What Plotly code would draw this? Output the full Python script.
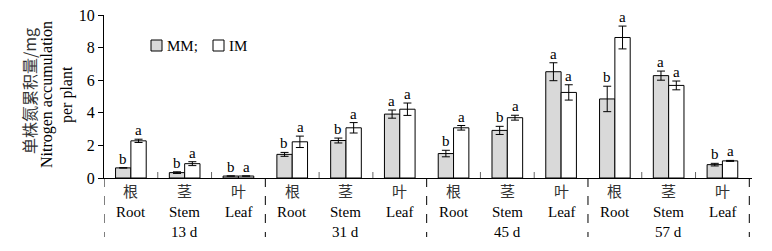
import plotly.graph_objects as go

groups = ["13 d", "31 d", "45 d", "57 d"]
organs_cn = ["根", "茎", "叶"]
organs_en = ["Root", "Stem", "Leaf"]

mm_vals = [0.62, 0.33, 0.12, 1.45, 2.30, 3.92, 1.50, 2.92, 6.52, 4.85, 6.28, 0.82]
mm_err = [0.00, 0.05, 0.00, 0.12, 0.15, 0.25, 0.20, 0.25, 0.55, 0.78, 0.28, 0.08]
im_vals = [2.28, 0.88, 0.12, 2.22, 3.08, 4.22, 3.08, 3.70, 5.25, 8.62, 5.68, 1.05]
im_err = [0.10, 0.12, 0.00, 0.35, 0.32, 0.38, 0.14, 0.15, 0.47, 0.70, 0.27, 0.03]
mm_sig = ["b", "b", "b", "b", "b", "a", "b", "b", "a", "b", "a", "b"]
im_sig = ["a", "a", "a", "a", "a", "a", "a", "a", "a", "a", "a", "a"]

serif = "Liberation Serif, Times New Roman, serif"
cjk = "Noto Sans CJK SC"

# the page body adds an 8px margin; compensate so the figure lands on the 772x251 frame
W, H = 764, 243
L, R, T, B = 96, 20, 7, 73
PW, PH = W - L - R, H - T - B

n = len(mm_vals)
xs = list(range(n))

fig = go.Figure()
fig.add_trace(go.Bar(
    x=xs, y=mm_vals, name="MM;", showlegend=False,
    marker=dict(color="#d9d9d9", line=dict(color="black", width=1)),
    error_y=dict(type="data", array=mm_err, color="black", thickness=1, width=4),
))
fig.add_trace(go.Bar(
    x=xs, y=im_vals, name="IM", showlegend=False,
    marker=dict(color="white", line=dict(color="black", width=1)),
    error_y=dict(type="data", array=im_err, color="black", thickness=1, width=4),
))

ann = []
off = 0.145
for i in range(n):
    ann.append(dict(x=i - off, y=mm_vals[i] + mm_err[i], xref="x", yref="y", text=mm_sig[i],
                    showarrow=False, xanchor="center", yanchor="bottom", yshift=-1,
                    font=dict(family=serif, size=15, color="black")))
    ann.append(dict(x=i + off, y=im_vals[i] + im_err[i], xref="x", yref="y", text=im_sig[i],
                    showarrow=False, xanchor="center", yanchor="bottom", yshift=-1,
                    font=dict(family=serif, size=15, color="black")))
for i in range(n):
    ann.append(dict(x=i, y=0, xref="x", yref="paper", text=organs_cn[i % 3], showarrow=False,
                    xanchor="center", yanchor="middle", yshift=-12,
                    font=dict(family=cjk, size=15, color="#333")))
    ann.append(dict(x=i, y=0, xref="x", yref="paper", text=organs_en[i % 3], showarrow=False,
                    xanchor="center", yanchor="middle", yshift=-34,
                    font=dict(family=serif, size=15, color="black")))
for g, name in enumerate(groups):
    ann.append(dict(x=g * 3 + 1, y=0, xref="x", yref="paper", text=name, showarrow=False,
                    xanchor="center", yanchor="middle", yshift=-54,
                    font=dict(family=serif, size=15, color="black")))

# y-axis title (three rotated lines)
ann.append(dict(x=0, y=(178 - 91) / PH, xref="paper", yref="paper", xshift=29 - 104,
                text="单株氮累积量/mg", textangle=-90, showarrow=False,
                xanchor="center", yanchor="middle", font=dict(family=cjk, size=16, color="#333")))
ann.append(dict(x=0, y=(178 - 95) / PH, xref="paper", yref="paper", xshift=47 - 104,
                text="Nitrogen accumulation", textangle=-90, showarrow=False,
                xanchor="center", yanchor="middle", font=dict(family=serif, size=16, color="black")))
ann.append(dict(x=0, y=(178 - 95) / PH, xref="paper", yref="paper", xshift=67 - 104,
                text="per plant", textangle=-90, showarrow=False,
                xanchor="center", yanchor="middle", font=dict(family=serif, size=16, color="black")))

def px(xp):
    return (xp - 104) / PW
def py(yp):
    return (178 - yp) / PH

shapes = []
# legend (drawn manually to match compact layout)
shapes.append(dict(type="rect", xref="paper", yref="paper", x0=px(151), x1=px(162), y0=py(51), y1=py(40),
                   fillcolor="#d9d9d9", line=dict(color="black", width=1)))
shapes.append(dict(type="rect", xref="paper", yref="paper", x0=px(213), x1=px(224), y0=py(51), y1=py(40),
                   fillcolor="white", line=dict(color="black", width=1)))
ann.append(dict(x=px(165), y=py(46), xref="paper", yref="paper", xanchor="left", yanchor="middle",
                text="MM;", showarrow=False, font=dict(family=serif, size=15, color="black")))
ann.append(dict(x=px(227), y=py(46), xref="paper", yref="paper", xanchor="left", yanchor="middle",
                text="IM", showarrow=False, font=dict(family=serif, size=15, color="black")))

# dashed group separators
for b in [-0.5, 2.5, 5.5, 8.5, 11.5]:
    shapes.append(dict(type="line", xref="x", yref="paper", x0=b, x1=b, y0=0, y1=-59 / PH,
                       line=dict(color="black", width=1, dash="dash")))
# small inward ticks between organs
for g in range(4):
    for k in (0.5, 1.5):
        b = g * 3 + k
        shapes.append(dict(type="line", xref="x", yref="paper", x0=b, x1=b, y0=0, y1=6 / PH,
                           line=dict(color="#666", width=1)))

fig.update_layout(
    width=W, height=H,
    margin=dict(l=L, r=R, t=T, b=B, autoexpand=False),
    paper_bgcolor="white", plot_bgcolor="white",
    barmode="group", bargap=0.43, bargroupgap=0,
    font=dict(family=serif, size=15, color="black"),
    showlegend=False,
    annotations=ann, shapes=shapes,
)
fig.update_xaxes(range=[-0.5, 11.55], showticklabels=False, ticks="", showgrid=False,
                 zeroline=False, showline=True, linecolor="black", linewidth=1)
fig.update_yaxes(range=[0, 10], tickvals=[0, 2, 4, 6, 8, 10], ticks="outside", ticklen=5,
                 tickcolor="black", showgrid=False, zeroline=False, showline=True,
                 linecolor="black", linewidth=1, tickfont=dict(family=serif, size=16),
                 ticklabeloverflow="allow")

fig.write_html("out.html")
